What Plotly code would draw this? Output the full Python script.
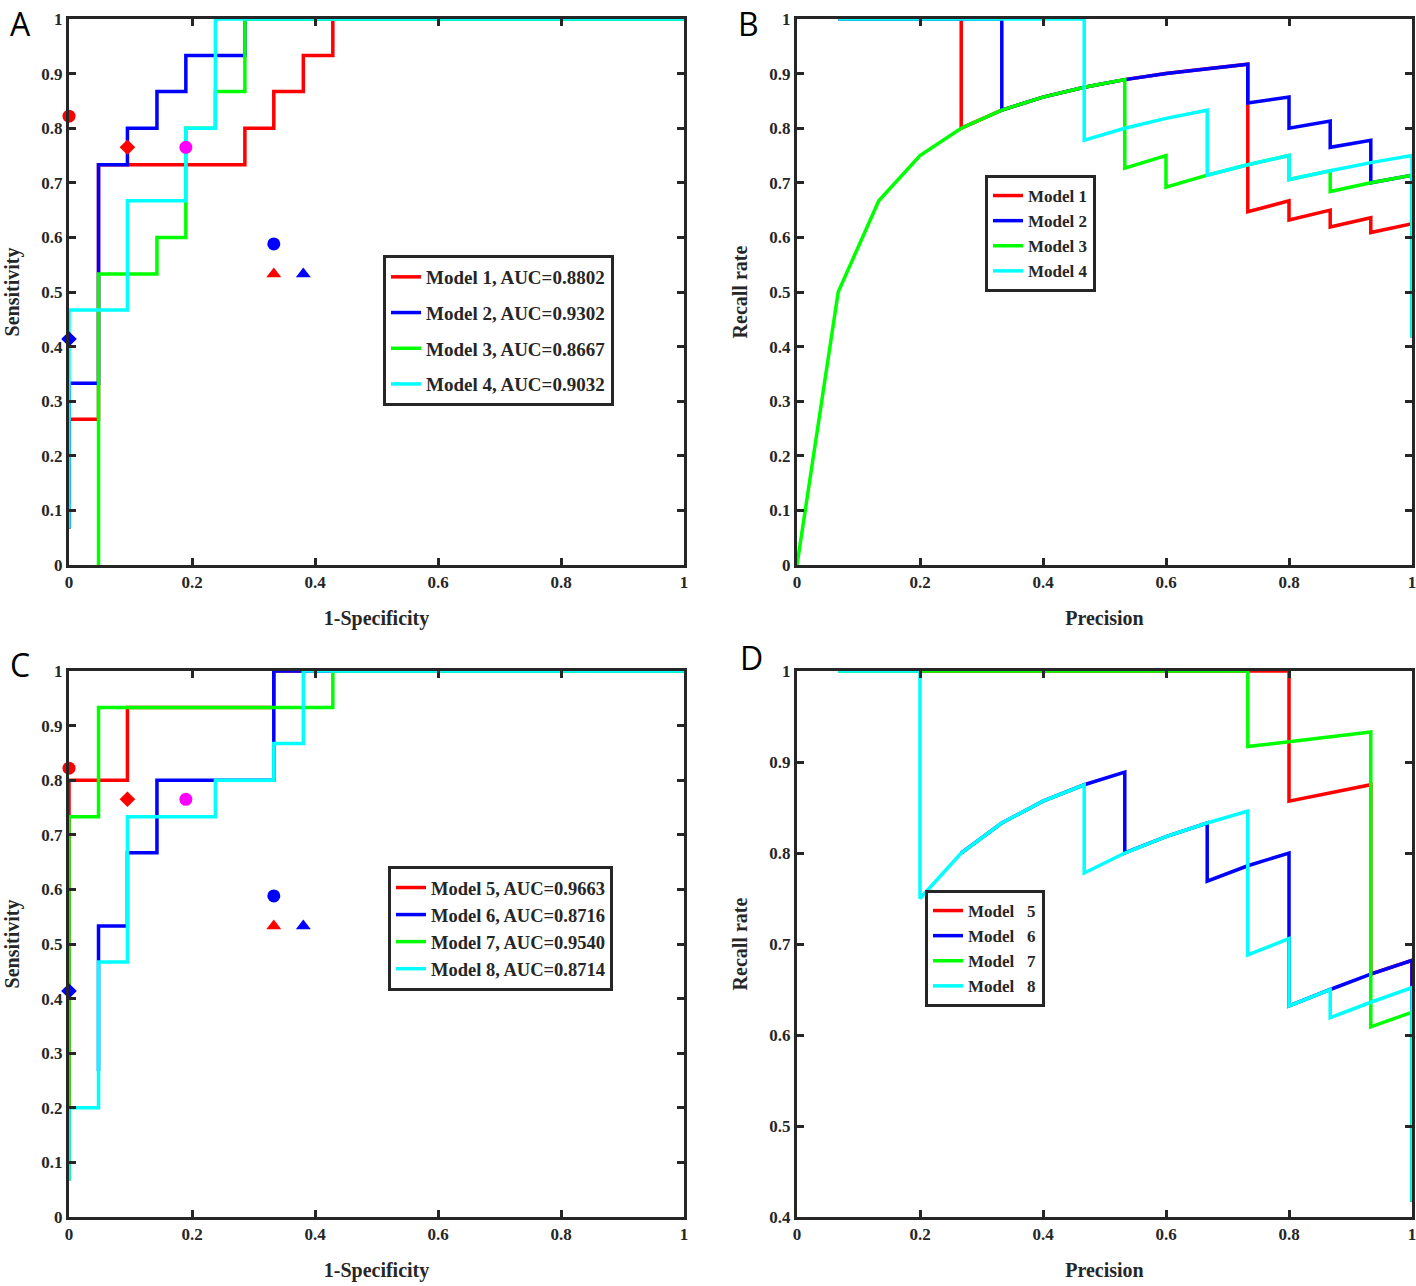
import plotly.graph_objects as go

# ---------------- Data ----------------
# Panel A: ROC curves (1-Specificity, Sensitivity)
roc_a_m1_x = [0, 0, 0.048, 0.048, 0.286, 0.286, 0.333, 0.333, 0.381, 0.381, 0.429, 0.429, 1]
roc_a_m1_y = [0.067, 0.267, 0.267, 0.733, 0.733, 0.8, 0.8, 0.867, 0.867, 0.933, 0.933, 1, 1]
roc_a_m2_x = [0, 0, 0.048, 0.048, 0.095, 0.095, 0.143, 0.143, 0.19, 0.19, 0.286, 0.286, 1]
roc_a_m2_y = [0.067, 0.333, 0.333, 0.733, 0.733, 0.8, 0.8, 0.867, 0.867, 0.933, 0.933, 1, 1]
roc_a_m3_x = [0.048, 0.048, 0.143, 0.143, 0.19, 0.19, 0.238, 0.238, 0.286, 0.286, 1]
roc_a_m3_y = [0, 0.533, 0.533, 0.6, 0.6, 0.8, 0.8, 0.867, 0.867, 1, 1]
roc_a_m4_x = [0, 0, 0.095, 0.095, 0.19, 0.19, 0.238, 0.238, 1]
roc_a_m4_y = [0.067, 0.467, 0.467, 0.667, 0.667, 0.8, 0.8, 1, 1]

# Panel B: PR curves (Precision axis, Recall rate axis)
pr_b_m1_x = [0.067, 0.267, 0.267, 0.333, 0.4, 0.467, 0.533, 0.6, 0.667, 0.733, 0.733, 0.8, 0.8, 0.867, 0.867, 0.933, 0.933, 1, 1]
pr_b_m1_y = [1, 1, 0.8, 0.833, 0.857, 0.875, 0.889, 0.9, 0.909, 0.917, 0.647, 0.667, 0.632, 0.65, 0.619, 0.636, 0.609, 0.625, 0.417]
pr_b_m2_x = [0.067, 0.333, 0.333, 0.4, 0.467, 0.533, 0.6, 0.667, 0.733, 0.733, 0.8, 0.8, 0.867, 0.867, 0.933, 0.933, 1, 1]
pr_b_m2_y = [1, 1, 0.833, 0.857, 0.875, 0.889, 0.9, 0.909, 0.917, 0.846, 0.857, 0.8, 0.813, 0.765, 0.778, 0.7, 0.714, 0.417]
pr_b_m3_x = [0, 0.067, 0.133, 0.2, 0.267, 0.333, 0.4, 0.467, 0.533, 0.533, 0.6, 0.6, 0.667, 0.733, 0.8, 0.8, 0.867, 0.867, 0.933, 1, 1]
pr_b_m3_y = [0, 0.5, 0.667, 0.75, 0.8, 0.833, 0.857, 0.875, 0.889, 0.727, 0.75, 0.692, 0.714, 0.733, 0.75, 0.706, 0.722, 0.684, 0.7, 0.714, 0.417]
pr_b_m4_x = [0.067, 0.467, 0.467, 0.533, 0.6, 0.667, 0.667, 0.733, 0.8, 0.8, 0.867, 0.933, 1, 1]
pr_b_m4_y = [1, 1, 0.778, 0.8, 0.818, 0.833, 0.714, 0.733, 0.75, 0.706, 0.722, 0.737, 0.75, 0.417]

# Panel C: ROC curves
roc_c_m5_x = [0, 0, 0.095, 0.095, 0.333, 0.333, 1]
roc_c_m5_y = [0.067, 0.8, 0.8, 0.933, 0.933, 1, 1]
roc_c_m6_x = [0.048, 0.048, 0.095, 0.095, 0.143, 0.143, 0.333, 0.333, 1]
roc_c_m6_y = [0.267, 0.533, 0.533, 0.667, 0.667, 0.8, 0.8, 1, 1]
roc_c_m7_x = [0, 0, 0.048, 0.048, 0.429, 0.429, 1]
roc_c_m7_y = [0.067, 0.733, 0.733, 0.933, 0.933, 1, 1]
roc_c_m8_x = [0, 0, 0.048, 0.048, 0.095, 0.095, 0.238, 0.238, 0.333, 0.333, 0.381, 0.381, 1]
roc_c_m8_y = [0.067, 0.2, 0.2, 0.467, 0.467, 0.733, 0.733, 0.8, 0.8, 0.867, 0.867, 1, 1]

# Panel D: PR curves
pr_d_m5_x = [0.067, 0.8, 0.8, 0.933, 0.933, 1, 1]
pr_d_m5_y = [1, 1, 0.857, 0.875, 0.667, 0.682, 0.417]
pr_d_m6_x = [0.267, 0.333, 0.4, 0.467, 0.533, 0.533, 0.6, 0.667, 0.667, 0.733, 0.8, 0.8, 0.867, 0.933, 1, 1]
pr_d_m6_y = [0.8, 0.833, 0.857, 0.875, 0.889, 0.8, 0.818, 0.833, 0.769, 0.786, 0.8, 0.632, 0.65, 0.667, 0.682, 0.417]
pr_d_m7_x = [0.067, 0.733, 0.733, 0.933, 0.933, 1, 1]
pr_d_m7_y = [1, 1, 0.917, 0.933, 0.609, 0.625, 0.417]
pr_d_m8_x = [0.067, 0.2, 0.2, 0.267, 0.333, 0.4, 0.467, 0.467, 0.533, 0.6, 0.667, 0.733, 0.733, 0.8, 0.8, 0.867, 0.867, 0.933, 1, 1]
pr_d_m8_y = [1, 1, 0.75, 0.8, 0.833, 0.857, 0.875, 0.778, 0.8, 0.818, 0.833, 0.846, 0.688, 0.706, 0.632, 0.65, 0.619, 0.636, 0.652, 0.417]

# Reference operating points on ROC panels (x, y, symbol, colour)
point_x = [0, 0.095, 0.19, 0.333, 0.333, 0.381, 0]
point_y = [0.822, 0.765, 0.765, 0.588, 0.533, 0.533, 0.414]
point_symbols = ["circle", "diamond", "circle", "circle", "triangle-up", "triangle-up", "diamond"]
point_colors = ["#FF0000", "#FF0000", "#FF00FF", "#0000FF", "#FF0000", "#0000FF", "#0000FF"]

legend_a = ["Model 1, AUC=0.8802", "Model 2, AUC=0.9302", "Model 3, AUC=0.8667", "Model 4, AUC=0.9032"]
legend_b = ["Model 1", "Model 2", "Model 3", "Model 4"]
legend_c = ["Model 5, AUC=0.9663", "Model 6, AUC=0.8716", "Model 7, AUC=0.9540", "Model 8, AUC=0.8714"]
legend_d = ["Model\u00a0\u00a0 5", "Model\u00a0\u00a0 6", "Model\u00a0\u00a0 7", "Model\u00a0\u00a0 8"]

colors = ["#FF0000", "#0000FF", "#00FF00", "#00FFFF"]

# ---------------- Figure ----------------
W, H = 1416, 1286
SERIF = "Liberation Serif"
AX = "#262626"

fig = go.Figure()

def px_x(p):
    return p / W

def px_y(p):
    return 1 - p / H

panels = {
    "A": dict(xa="xaxis", ya="yaxis", xr="x", yr="y", xd=[px_x(69), px_x(684)], yd=[px_y(565), px_y(19)]),
    "B": dict(xa="xaxis2", ya="yaxis2", xr="x2", yr="y2", xd=[px_x(797), px_x(1412)], yd=[px_y(565), px_y(19)]),
    "C": dict(xa="xaxis3", ya="yaxis3", xr="x3", yr="y3", xd=[px_x(69), px_x(684)], yd=[px_y(1217), px_y(671)]),
    "D": dict(xa="xaxis4", ya="yaxis4", xr="x4", yr="y4", xd=[px_x(797), px_x(1412)], yd=[px_y(1217), px_y(671)]),
}

series = {
    "A": ([roc_a_m1_x, roc_a_m2_x, roc_a_m3_x, roc_a_m4_x], [roc_a_m1_y, roc_a_m2_y, roc_a_m3_y, roc_a_m4_y], legend_a, "legend"),
    "B": ([pr_b_m1_x, pr_b_m2_x, pr_b_m3_x, pr_b_m4_x], [pr_b_m1_y, pr_b_m2_y, pr_b_m3_y, pr_b_m4_y], legend_b, "legend2"),
    "C": ([roc_c_m5_x, roc_c_m6_x, roc_c_m7_x, roc_c_m8_x], [roc_c_m5_y, roc_c_m6_y, roc_c_m7_y, roc_c_m8_y], legend_c, "legend3"),
    "D": ([pr_d_m5_x, pr_d_m6_x, pr_d_m7_x, pr_d_m8_x], [pr_d_m5_y, pr_d_m6_y, pr_d_m7_y, pr_d_m8_y], legend_d, "legend4"),
}

for key, (xs, ys, names, lg) in series.items():
    p = panels[key]
    for i in range(4):
        fig.add_trace(go.Scatter(
            x=xs[i], y=ys[i], mode="lines", name=names[i],
            line=dict(color=colors[i], width=3.5),
            xaxis=p["xr"], yaxis=p["yr"], legend=lg,
            legendgroup=key + str(i), cliponaxis=False,
        ))

for key in ["A", "C"]:
    p = panels[key]
    for j in range(len(point_x)):
        sym = point_symbols[j]
        size = 13 if sym == "circle" else (12 if sym == "diamond" else 13)
        fig.add_trace(go.Scatter(
            x=[point_x[j]], y=[point_y[j]], mode="markers",
            marker=dict(symbol=sym, size=size, color=point_colors[j], line=dict(width=0)),
            xaxis=p["xr"], yaxis=p["yr"], showlegend=False, cliponaxis=False,
        ))

tick_font = dict(family=SERIF, size=17, color=AX, weight="bold")
title_font = dict(family=SERIF, size=20, color=AX, weight="bold")

titles = {"A": ("1-Specificity", "Sensitivity"), "B": ("Precision", "Recall rate"),
          "C": ("1-Specificity", "Sensitivity"), "D": ("Precision", "Recall rate")}

layout_axes = {}
for key, p in panels.items():
    xt, yt = titles[key]
    ylo = 0.4 if key == "D" else 0
    ydtick = 0.1
    layout_axes[p["xa"]] = dict(
        domain=p["xd"], range=[0, 1], anchor=p["yr"], automargin=False,
        tickmode="array", tickvals=[0, 0.2, 0.4, 0.6, 0.8, 1], ticktext=["0", "0.2", "0.4", "0.6", "0.8", "1"],
        ticks="inside", ticklen=7, tickwidth=3, tickcolor=AX, ticklabeloverflow="allow",
        showline=True, linewidth=3, linecolor=AX, mirror="ticks",
        showgrid=False, zeroline=False, tickfont=tick_font,
        title=dict(text=xt, font=title_font, standoff=20),
    )
    yvals = [round(ylo + k * ydtick, 1) for k in range(int(round((1 - ylo) / ydtick)) + 1)]
    layout_axes[p["ya"]] = dict(
        domain=p["yd"], range=[ylo, 1], anchor=p["xr"], automargin=False,
        tickmode="array", tickvals=yvals, ticktext=[("%g" % v) for v in yvals],
        ticks="inside", ticklen=7, tickwidth=3, tickcolor=AX, ticklabeloverflow="allow",
        showline=True, linewidth=3, linecolor=AX, mirror="ticks",
        showgrid=False, zeroline=False, tickfont=tick_font,
        title=dict(text=yt, font=title_font, standoff=17),
    )

legend_common = dict(
    xref="paper", yref="paper", xanchor="left", yanchor="top",
    bgcolor="white", bordercolor=AX, borderwidth=3, itemwidth=30,
)

def lfont(size):
    return dict(family=SERIF, size=size, color=AX, weight="bold")

fig.update_layout(
    width=W, height=H,
    margin=dict(l=0, r=0, t=0, b=0),
    paper_bgcolor="white", plot_bgcolor="white",
    legend=dict(**legend_common, x=px_x(383), y=px_y(255), font=lfont(19),
                traceorder="grouped", tracegroupgap=8),
    legend2=dict(**legend_common, x=px_x(985), y=px_y(175), font=lfont(17), traceorder="normal"),
    legend3=dict(**legend_common, x=px_x(388), y=px_y(866), font=lfont(18.5), traceorder="normal"),
    legend4=dict(**legend_common, x=px_x(925), y=px_y(890), font=lfont(17), traceorder="normal"),
    **layout_axes,
)

letter_pos = {"A": (8, 0), "B": (736, 0), "C": (8, 641), "D": (738, 634)}
for k, (lx, ly) in letter_pos.items():
    fig.add_annotation(
        text=k, xref="paper", yref="paper", x=px_x(lx), y=px_y(ly),
        xanchor="left", yanchor="top", showarrow=False,
        font=dict(family="Open Sans", size=32, color="black"),
    )

fig.write_html(
    "out.html",
    config={"displayModeBar": False},
    post_script="document.body.style.margin='0';document.body.style.overflow='hidden';",
)
